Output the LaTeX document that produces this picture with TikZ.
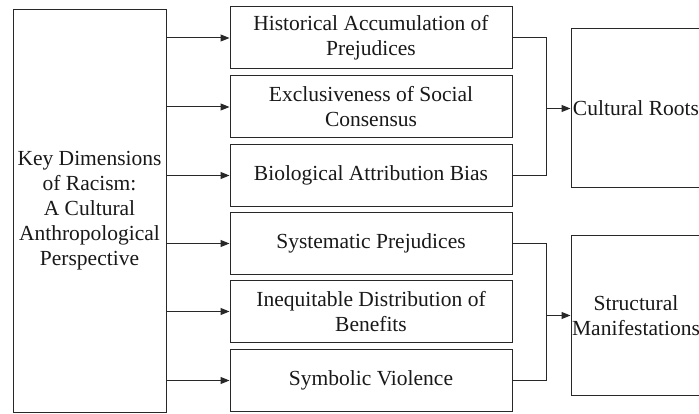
\documentclass[tikz,border=0pt]{standalone}
\usepackage{fontspec}
\setmainfont{Liberation Serif}
\usetikzlibrary{arrows.meta}
\definecolor{lncol}{RGB}{40,40,40}
\definecolor{txcol}{RGB}{25,25,25}
\begin{document}
\begin{tikzpicture}[x=1pt,y=-1pt,
  box/.style={draw=lncol, line width=1pt, align=center, inner sep=0pt,
    font=\fontsize{21.5}{25}\selectfont, text=txcol},
  mid/.style={box, minimum width=282pt, minimum height=62pt},
  side/.style={box, minimum width=130pt, minimum height=159pt},
  arr/.style={draw=lncol, line width=1pt, -{Triangle[length=9pt,width=7pt]}},
  link/.style={draw=lncol, line width=1pt}]
\useasboundingbox (0,0) rectangle (699,414);
\fill[white] (0,0) rectangle (699,414);
\clip (0,0) rectangle (699,414);
\node[box, minimum width=153pt, minimum height=402pt] (L) at (89.5,211)
  {Key Dimensions\\of Racism:\\A Cultural\\Anthropological\\Perspective};
\node[mid] (b1) at (371,38) {Historical Accumulation of\\Prejudices};
\node[mid] (b2) at (371,107) {Exclusiveness of Social\\Consensus};
\node[mid] (b3) at (371,175.5) {Biological Attribution Bias};
\node[mid] (b4) at (371,243.5) {Systematic Prejudices};
\node[mid] (b5) at (371,311.5) {Inequitable Distribution of\\Benefits};
\node[mid] (b6) at (371,380.5) {Symbolic Violence};
\node[side] (r1) at (636,108.5) {Cultural Roots};
\node[side] (r2) at (636,315.5) {Structural\\Manifestations};
\foreach \b in {b1,b2,b3,b4,b5,b6}
  \draw[arr] (L.east |- \b.west) -- (\b.west);
\coordinate (m1) at (546,0);
\draw[link] (b1.east) -| (m1 |- b3.east) -- (b3.east);
\draw[arr] (m1 |- r1.west) -- (r1.west);
\draw[link] (b4.east) -| (m1 |- b6.east) -- (b6.east);
\draw[arr] (m1 |- r2.west) -- (r2.west);
\end{tikzpicture}
\end{document}
